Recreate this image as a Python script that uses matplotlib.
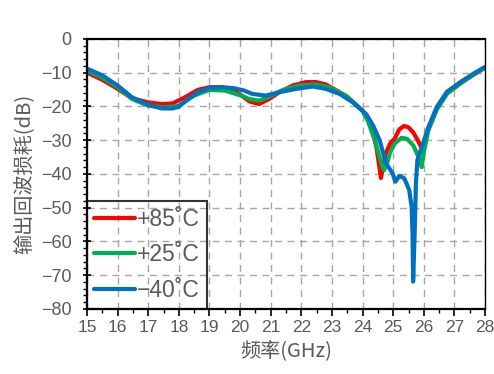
import matplotlib
matplotlib.use("Agg")
import matplotlib.pyplot as plt
from matplotlib.ticker import MultipleLocator

freq_red = [15.0, 15.5, 16.0, 16.47, 17.0, 17.44, 17.8, 18.2, 18.62, 19.0, 19.4, 19.8, 20.08, 20.3, 20.62, 20.95, 21.28, 21.72, 22.15, 22.48, 22.8, 23.25, 23.57, 24.0, 24.23, 24.45, 24.6, 24.75, 24.9, 25.05, 25.2, 25.35, 25.5, 25.66, 25.8, 25.88, 25.95, 26.15, 26.42, 26.75, 27.19, 27.62, 28.0]
s22_red = [-10.0, -12.1, -14.8, -17.6, -18.8, -19.3, -19.1, -17.3, -15.1, -14.3, -14.3, -15.3, -17.0, -18.5, -19.3, -17.8, -15.8, -13.8, -12.8, -12.8, -13.5, -15.8, -17.8, -21.3, -24.1, -32.0, -41.2, -34.0, -31.0, -29.5, -26.8, -25.8, -26.2, -27.8, -30.0, -31.5, -32.5, -26.8, -20.8, -16.2, -13.2, -10.6, -8.5]

freq_green = [15.0, 15.5, 16.0, 16.47, 17.0, 17.55, 18.0, 18.5, 19.0, 19.5, 20.03, 20.3, 20.62, 20.95, 21.4, 21.93, 22.45, 22.9, 23.46, 24.0, 24.17, 24.4, 24.6, 24.7, 24.8, 24.9, 25.05, 25.27, 25.45, 25.66, 25.8, 25.93, 26.0, 26.15, 26.42, 26.75, 27.19, 27.62, 28.0]
s22_green = [-9.3, -11.5, -14.3, -17.8, -19.8, -20.3, -19.8, -16.8, -15.1, -15.3, -16.8, -17.8, -18.3, -17.1, -15.1, -13.8, -13.5, -14.3, -16.8, -21.3, -24.3, -30.0, -36.5, -38.9, -36.8, -33.6, -31.0, -29.3, -29.6, -31.6, -34.5, -38.0, -33.5, -27.0, -21.0, -16.3, -13.2, -10.6, -8.5]

freq_blue = [15.0, 15.5, 16.0, 16.47, 17.0, 17.44, 17.8, 18.0, 18.3, 18.62, 19.0, 19.4, 19.8, 20.13, 20.4, 20.84, 21.28, 21.83, 22.37, 22.8, 23.25, 23.68, 24.12, 24.35, 24.56, 24.76, 24.98, 25.07, 25.2, 25.36, 25.52, 25.6, 25.63, 25.65, 25.7, 25.74, 25.79, 25.9, 26.15, 26.42, 26.75, 27.19, 27.62, 28.0]
s22_blue = [-8.8, -10.8, -13.8, -17.3, -19.5, -20.6, -20.6, -20.1, -17.8, -15.8, -14.5, -14.3, -14.6, -15.3, -16.3, -16.8, -15.8, -14.8, -14.1, -14.8, -16.3, -18.8, -22.3, -25.8, -30.1, -36.8, -39.8, -42.3, -40.6, -41.3, -44.7, -49.7, -57.5, -71.9, -57.5, -42.8, -35.9, -32.9, -26.1, -20.2, -15.7, -12.8, -10.3, -8.3]

labels = ["+85˚C", "+25˚C", "−40˚C"]
colors = ["#ff0000", "#00b050", "#0070c0"]

fig = plt.figure(figsize=(4.94, 3.74), dpi=100)
ax = fig.add_axes([0.176, 0.174, 0.806, 0.722])

for fx, fy, lab, c in zip([freq_red, freq_green, freq_blue], [s22_red, s22_green, s22_blue], labels, colors):
    ax.plot(fx, fy, color=c, lw=3.0, label=lab, solid_capstyle="round", solid_joinstyle="round")

ax.set_xlim(15, 28)
ax.set_ylim(-80, 0)
ax.xaxis.set_major_locator(MultipleLocator(1))
ax.xaxis.set_minor_locator(MultipleLocator(0.5))
ax.yaxis.set_major_locator(MultipleLocator(10))
ax.yaxis.set_minor_locator(MultipleLocator(2))
ax.grid(True, which="major", linestyle=(0, (5, 4)), color="#a6a6a6", lw=1.0)
ax.set_axisbelow(True)

tick_font = "Liberation Sans"
ax.tick_params(axis="x", which="major", direction="out", length=5, width=1.2, labelsize=12.5, labelcolor="#595959", pad=3)
ax.tick_params(axis="x", which="minor", direction="out", length=3, width=1.0)
ax.tick_params(axis="y", which="major", direction="inout", length=6, width=1.2, labelsize=13, labelcolor="#595959", pad=8)
ax.tick_params(axis="y", which="minor", direction="out", length=3, width=1.0)
for lbl in ax.get_xticklabels() + ax.get_yticklabels():
    lbl.set_family(tick_font)

for s in ["left", "bottom", "top"]:
    ax.spines[s].set_linewidth(1.6)
ax.spines["right"].set_linewidth(1.0)

cjk = ["Noto Sans CJK SC", "DejaVu Sans"]
ax.set_xlabel("频率(GHz)", family=cjk, fontsize=14.5, color="#595959", labelpad=4)
ax.set_ylabel("输出回波损耗(dB)", family=cjk, fontsize=14.5, color="#595959", labelpad=4)

leg = ax.legend(loc="lower left", bbox_to_anchor=(0, 0), frameon=True, fancybox=False,
                prop={"family": tick_font, "size": 16.5}, handlelength=1.8, handletextpad=0.1,
                borderpad=0.3, labelspacing=0.55, borderaxespad=0)
leg.get_frame().set_edgecolor("black")
leg.get_frame().set_linewidth(1.5)
leg.get_frame().set_facecolor("none")
for t in leg.get_texts():
    t.set_color("#595959")

fig.savefig("out.png", dpi=100)
